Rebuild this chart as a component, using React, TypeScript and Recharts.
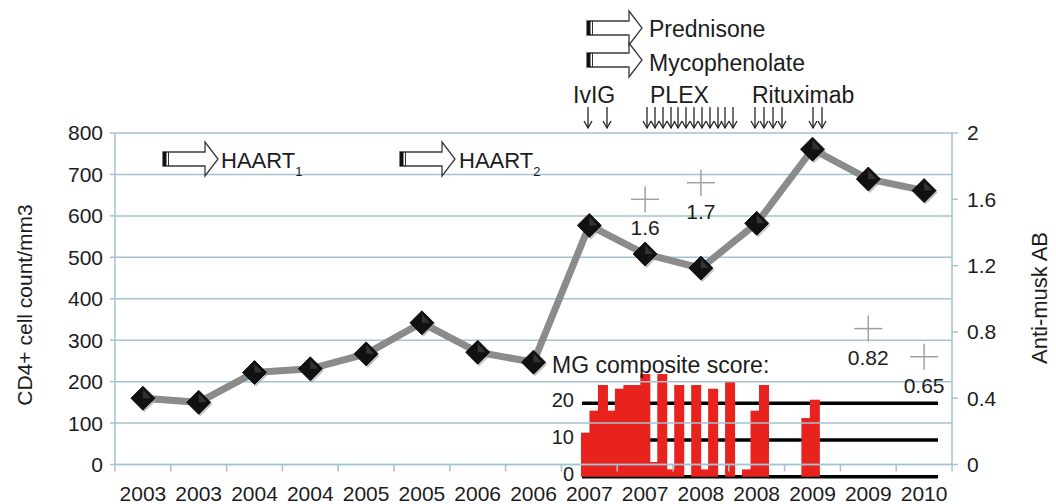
import React from 'react';
import {
  ComposedChart,
  BarChart,
  Bar,
  Line,
  Scatter,
  XAxis,
  YAxis,
  CartesianGrid,
} from 'recharts';

const YEARS = ['2003', '2003', '2004', '2004', '2005', '2005', '2006', '2006', '2007', '2007', '2008', '2008', '2009', '2009', '2010'];
const CD4 = [160, 150, 222, 231, 267, 342, 271, 247, 577, 508, 474, 582, 761, 689, 661];
const LEFT_TICKS = [0, 100, 200, 300, 400, 500, 600, 700, 800];
const RIGHT_TICKS = [0, 0.4, 0.8, 1.2, 1.6, 2];

// anti-MuSK antibody measurements: category index + value
const AB_AT = [9, 10, 13, 14];
const AB_VALUES = [1.6, 1.7, 0.82, 0.65];

// MG composite score, roughly monthly from 2007
const MG_SCORE = [
  12, 18, 25, 18, 24, 25, 25, 28, 4, 28, 2, 25, 0, 25, 2, 24, 0, 26, 0, 2, 18, 25,
  0, 0, 0, 0, 16, 21, 0, 0, 0, 0, 0, 0, 0, 0, 0, 0, 0, 0, 0, 0,
];
const MG_TICKS = [0, 10, 20];
const MG_MAX = 30;

const PLEX_ARROWS = [647, 655, 663, 671, 678, 686, 694, 702, 710, 718, 725, 733];
const IVIG_ARROWS = [588, 607];
const RITUX_ARROWS = [755, 764, 773, 782, 813, 822];

const FONT = '"Liberation Sans", Arial, sans-serif';
const GRID = '#a5c2d3';
const TEXT = '#1c1c1c';
const RED = '#e8221d';
const W = 1056;
const H = 504;
const PLOT_LEFT = 115;
const PLOT_RIGHT = 952;
const PLOT_TOP = 133;
const AXIS_Y = 464.5;
const HALF_BAND = (PLOT_RIGHT - PLOT_LEFT) / YEARS.length / 2;

const mainData = CD4.map((v, i) => ({ idx: i, cd4: v }));
const abData = AB_AT.map((at, i) => ({ idx: at, ab: AB_VALUES[i] }));
const mgData = MG_SCORE.map((v, i) => ({ slot: i, mg: v }));

function XTick(props: any) {
  const { x, payload, index } = props;
  return (
    <g>
      <text x={x} y={501} textAnchor="middle" fontSize={21} fill={TEXT} fontFamily={FONT}>
        {YEARS[payload.value]}
      </text>
      {index === 0 && (
        <line x1={x - HALF_BAND} x2={x - HALF_BAND} y1={AXIS_Y} y2={AXIS_Y + 7} stroke={GRID} strokeWidth={1.5} />
      )}
      <line x1={x + HALF_BAND} x2={x + HALF_BAND} y1={AXIS_Y} y2={AXIS_Y + 7} stroke={GRID} strokeWidth={1.5} />
    </g>
  );
}

function Diamond(props: any) {
  const { cx, cy } = props;
  if (cx == null || cy == null) return <g />;
  const r = 12;
  const d = (ox: number, oy: number) =>
    `M${cx + ox},${cy - r + oy} L${cx + r + ox},${cy + oy} L${cx + ox},${cy + r + oy} L${cx - r + ox},${cy + oy} Z`;
  return (
    <g>
      <path d={d(1.5, 2)} fill="#9a9a9a" opacity={0.6} />
      <path d={d(0, 0)} fill="#111" stroke="#000" strokeWidth={0.8} />
      <path d={`M${cx},${cy - r + 3} L${cx + r - 4},${cy} L${cx},${cy}Z`} fill="#333" />
    </g>
  );
}

function Cross(props: any) {
  const { cx, cy, payload } = props;
  if (cx == null || cy == null) return <g />;
  return (
    <g>
      <line x1={cx - 14} x2={cx + 14} y1={cy} y2={cy} stroke="#a0a0a0" strokeWidth={1.5} />
      <line x1={cx} x2={cx} y1={cy - 13} y2={cy + 13} stroke="#a0a0a0" strokeWidth={1.5} />
      <text x={cx} y={cy + 36} textAnchor="middle" fontSize={21} fill={TEXT} fontFamily={FONT}>
        {payload.ab}
      </text>
    </g>
  );
}

// bars touch each other in the reference, so close the rounding gaps
function MgBar(props: any) {
  const { x, y, width, height } = props;
  if (!height || height <= 0) return <g />;
  return <rect x={x - 1} y={y} width={width + 2} height={height} fill={RED} />;
}

function BlockArrow({ x, cy }: { x: number; cy: number }) {
  const bl = 42;
  const hl = 13;
  const bh = 14;
  const hh = 34;
  const d = `M${x},${cy - bh / 2} L${x + bl},${cy - bh / 2} L${x + bl},${cy - hh / 2} L${x + bl + hl},${cy} L${x + bl},${cy + hh / 2} L${x + bl},${cy + bh / 2} L${x},${cy + bh / 2} Z`;
  return (
    <g>
      <path d={d} fill="#fff" stroke="#3a3a3a" strokeWidth={1.3} />
      <rect x={x} y={cy - bh / 2} width={3.5} height={bh} fill="#111" />
      <line x1={x + 5.5} x2={x + 5.5} y1={cy - bh / 2} y2={cy + bh / 2} stroke="#333" strokeWidth={1} />
    </g>
  );
}

function DownArrow({ x }: { x: number }) {
  return (
    <g stroke="#222" strokeWidth={1.3} fill="none">
      <line x1={x} x2={x} y1={107} y2={128} />
      <polyline points={`${x - 4},${121} ${x},${128} ${x + 4},${121}`} />
    </g>
  );
}

function Annotations() {
  const t = { fontFamily: FONT, fill: TEXT };
  return (
    <svg width={W} height={H} style={{ position: 'absolute', left: 0, top: 0, pointerEvents: 'none' }}>
      <BlockArrow x={587} cy={28} />
      <BlockArrow x={587} cy={60} />
      <text x={649} y={37} fontSize={23} {...t}>Prednisone</text>
      <text x={649} y={71} fontSize={23} {...t}>Mycophenolate</text>
      <text x={573} y={103} fontSize={23} {...t}>IvIG</text>
      <text x={650} y={103} fontSize={23} {...t}>PLEX</text>
      <text x={752} y={103} fontSize={23} {...t}>Rituximab</text>
      {[...IVIG_ARROWS, ...PLEX_ARROWS, ...RITUX_ARROWS].map((x, i) => (
        <DownArrow key={i} x={x} />
      ))}
      <BlockArrow x={163} cy={159} />
      <text x={221} y={168} fontSize={22} {...t}>
        HAART<tspan fontSize={13} dy={8}>1</tspan>
      </text>
      <BlockArrow x={400} cy={159} />
      <text x={459} y={168} fontSize={22} {...t}>
        HAART<tspan fontSize={13} dy={8}>2</tspan>
      </text>
      <text x={552} y={373} fontSize={23} {...t}>MG composite score:</text>
      <text transform="translate(32,305) rotate(-90)" textAnchor="middle" fontSize={21} {...t}>
        CD4+ cell count/mm3
      </text>
      <text transform="translate(1047,298) rotate(-90)" textAnchor="middle" fontSize={22} {...t}>
        Anti-musk AB
      </text>
    </svg>
  );
}

function mgGridLines(p: any) {
  const off = p && p.offset;
  if (!off || typeof off.top !== 'number') return [];
  return MG_TICKS.map((v) => off.top + off.height * (1 - v / MG_MAX));
}

function MgInset() {
  return (
    <div style={{ position: 'absolute', left: 0, top: 0 }}>
      <BarChart
        width={W}
        height={H}
        data={mgData}
        margin={{ top: 366.7, right: W - 938, bottom: H - 476.7, left: 0 }}
        barCategoryGap={0}
        barGap={0}
      >
        <CartesianGrid
          vertical={false}
          stroke="#000"
          strokeWidth={3.5}
          horizontalCoordinatesGenerator={mgGridLines}
        />
        <XAxis dataKey="slot" hide />
        <YAxis
          domain={[0, MG_MAX]}
          ticks={MG_TICKS}
          width={582}
          axisLine={false}
          tickLine={false}
          tick={{ fontSize: 20, fill: TEXT, fontFamily: FONT, dy: -3 }}
        />
        <Bar dataKey="mg" fill={RED} shape={(p: any) => <MgBar {...p} />} isAnimationActive={false} />
      </BarChart>
    </div>
  );
}

export default function App() {
  return (
    <div style={{ position: 'absolute', left: 0, top: 0, width: W, height: H, background: '#fff' }}>
      <MgInset />
      <div style={{ position: 'absolute', left: 0, top: 0 }}>
        <ComposedChart
          width={W}
          height={H}
          data={mainData}
          margin={{ top: PLOT_TOP, right: 0, bottom: 8, left: 0 }}
        >
          <CartesianGrid yAxisId="left" vertical={false} stroke={GRID} strokeWidth={1.5} />
          <XAxis
            dataKey="idx"
            type="number"
            domain={[-0.5, 14.5]}
            ticks={YEARS.map((_, i) => i)}
            interval={0}
            height={H - 8 - AXIS_Y}
            axisLine={{ stroke: GRID, strokeWidth: 1.5 }}
            tickLine={false}
            tick={(p: any) => <XTick {...p} />}
          />
          <YAxis
            yAxisId="left"
            domain={[0, 800]}
            ticks={LEFT_TICKS}
            width={PLOT_LEFT}
            axisLine={{ stroke: GRID, strokeWidth: 1.5 }}
            tickLine={{ stroke: GRID, strokeWidth: 1.5 }}
            tickSize={5}
            tickMargin={7}
            tick={{ fontSize: 21, fill: TEXT, fontFamily: FONT }}
          />
          <YAxis
            yAxisId="right"
            orientation="right"
            domain={[0, 2]}
            ticks={RIGHT_TICKS}
            width={W - PLOT_RIGHT}
            axisLine={{ stroke: GRID, strokeWidth: 1.5 }}
            tickLine={{ stroke: GRID, strokeWidth: 1.5 }}
            tickSize={6}
            tickMargin={9}
            tick={{ fontSize: 21, fill: TEXT, fontFamily: FONT }}
          />
          <Line
            yAxisId="left"
            dataKey="cd4"
            stroke="#8b8b8b"
            strokeWidth={7}
            dot={(p: any) => <Diamond key={`d-${p.index}`} {...p} />}
            activeDot={false}
            isAnimationActive={false}
          />
          <Scatter
            yAxisId="right"
            data={abData}
            dataKey="ab"
            shape={(p: any) => <Cross {...p} />}
            isAnimationActive={false}
          />
        </ComposedChart>
      </div>
      <Annotations />
    </div>
  );
}
